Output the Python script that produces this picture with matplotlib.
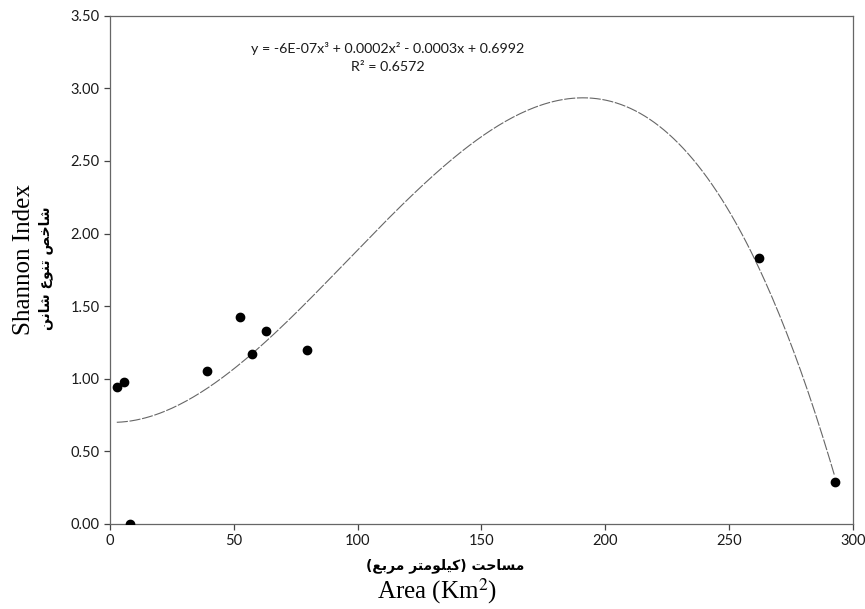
import matplotlib.pyplot as plt
import numpy as np

# data
area = [2.8, 5.8, 8.3, 39.2, 52.7, 57.5, 62.9, 79.7, 262.1, 292.6]
shannon = [0.944, 0.974, 0.0, 1.054, 1.422, 1.167, 1.325, 1.194, 1.831, 0.285]
x_ticks = [0, 50, 100, 150, 200, 250, 300]
y_ticks = [0.0, 0.5, 1.0, 1.5, 2.0, 2.5, 3.0, 3.5]

eq_text = 'y = -6E-07x³ + 0.0002x² - 0.0003x + 0.6992'
r2_text = 'R² = 0.6572'
ylabel_fa = 'شاخص تنوع شانن'
xlabel_fa = 'مساحت (کیلومتر مربع)'

plt.rcParams['mathtext.fontset'] = 'stix'

# presentation forms: isolated, final, initial, medial (None = no forward join)
FORMS = {
    'ا': ('\uFE8D', '\uFE8E', None, None),
    'ب': ('\uFE8F', '\uFE90', '\uFE91', '\uFE92'),
    'ت': ('\uFE95', '\uFE96', '\uFE97', '\uFE98'),
    'ح': ('\uFEA1', '\uFEA2', '\uFEA3', '\uFEA4'),
    'خ': ('\uFEA5', '\uFEA6', '\uFEA7', '\uFEA8'),
    'ر': ('\uFEAD', '\uFEAE', None, None),
    'س': ('\uFEB1', '\uFEB2', '\uFEB3', '\uFEB4'),
    'ش': ('\uFEB5', '\uFEB6', '\uFEB7', '\uFEB8'),
    'ص': ('\uFEB9', '\uFEBA', '\uFEBB', '\uFEBC'),
    'ع': ('\uFEC9', '\uFECA', '\uFECB', '\uFECC'),
    'ل': ('\uFEDD', '\uFEDE', '\uFEDF', '\uFEE0'),
    'م': ('\uFEE1', '\uFEE2', '\uFEE3', '\uFEE4'),
    'ن': ('\uFEE5', '\uFEE6', '\uFEE7', '\uFEE8'),
    'و': ('\uFEED', '\uFEEE', None, None),
    'ک': ('\uFED9', '\uFEDA', '\uFEDB', '\uFEDC'),
    'ی': ('\uFBFC', '\uFBFD', '\uFEF3', '\uFEF4'),
}


def shape_rtl(s):
    out = []
    for i, ch in enumerate(s):
        if ch not in FORMS:
            out.append({'(': ')', ')': '('}.get(ch, ch))
            continue
        prev = s[i - 1] if i > 0 else None
        nxt = s[i + 1] if i + 1 < len(s) else None
        join_prev = prev in FORMS and FORMS[prev][2] is not None
        join_next = nxt in FORMS and FORMS[ch][2] is not None
        iso, fin, ini, med = FORMS[ch]
        if join_prev and join_next:
            out.append(med)
        elif join_prev:
            out.append(fin)
        elif join_next:
            out.append(ini)
        else:
            out.append(iso)
    return ''.join(out[::-1])


fig = plt.figure(figsize=(8.65, 6.09), dpi=100)
ax = fig.add_axes([0.127, 0.140, 0.859, 0.834])

ax.scatter(area, shannon, s=36, color='black', zorder=3)

# cubic trendline fitted to the points
coef = np.polyfit(area, shannon, 3)
xs = np.linspace(min(area), max(area), 300)
ax.plot(xs, np.polyval(coef, xs), color='#666666', lw=0.8,
        linestyle=(0, (10, 1.5)), zorder=2)

ax.set_xlim(0, 300)
ax.set_ylim(0, 3.5)
ax.set_xticks(x_ticks)
ax.set_yticks(y_ticks)
ax.set_yticklabels([f'{v:.2f}' for v in y_ticks])
for sp in ax.spines.values():
    sp.set_color('#666666')
    sp.set_linewidth(0.9)
ax.tick_params(direction='out', length=4, width=0.9, color='#444444',
               labelsize=10.5, labelcolor='#1a1a1a')
for lab in ax.get_xticklabels() + ax.get_yticklabels():
    lab.set_family('Lato')

ax.text(0.374, 0.935, eq_text, transform=ax.transAxes, ha='center',
        va='center', fontsize=10.3, family='Lato', color='#1a1a1a')
ax.text(0.374, 0.899, r2_text, transform=ax.transAxes, ha='center',
        va='center', fontsize=10.3, family='Lato', color='#1a1a1a')

fig.text(445 / 865, 1 - 566 / 609, shape_rtl(xlabel_fa), ha='center',
         va='center', fontsize=10, fontweight='bold', family='DejaVu Sans')
fig.text(437 / 865, 1 - 591 / 609, 'Area (Km$^2$)', ha='center', va='center',
         fontsize=18, family='Liberation Serif')
fig.text(24 / 865, 1 - 260 / 609, 'Shannon Index', ha='center', va='center',
         rotation=90, fontsize=18, family='Liberation Serif')
fig.text(46 / 865, 1 - 268 / 609, shape_rtl(ylabel_fa), ha='center',
         va='center', rotation=90, fontsize=10, fontweight='bold',
         family='DejaVu Sans')

fig.savefig('out.png', dpi=100)
